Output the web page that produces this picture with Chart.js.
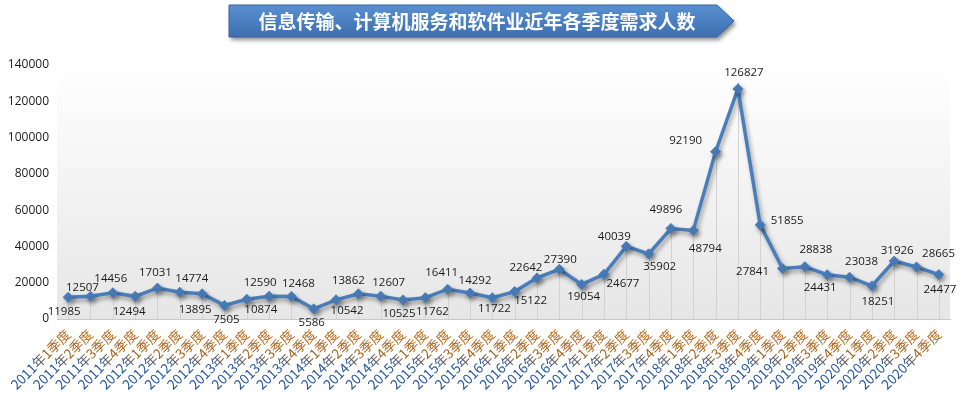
<!DOCTYPE html>
<html>
<head>
<meta charset="utf-8">
<script src="https://cdn.jsdelivr.net/npm/chart.js@4"></script>
<style>
  html, body { margin: 0; padding: 0; background: #fff; }
  #wrap { width: 965px; height: 399px; }
</style>
</head>
<body>
<div id="wrap"><canvas id="chart"></canvas></div>
<script>
const years = ["2011", "2012", "2013", "2014", "2015", "2016", "2017", "2018", "2019", "2020"];
const quarters = ["1", "2", "3", "4"];
const labels = [];
years.forEach(y => quarters.forEach(q => labels.push(y + "年" + q + "季度")));

const demand = [
  11985, 12507, 14456, 12494,
  17031, 14774, 13895, 7505,
  10874, 12590, 12468, 5586,
  10542, 13862, 12607, 10525,
  11762, 16411, 14292, 11722,
  15122, 22642, 27390, 19054,
  24677, 40039, 35902, 49896,
  48794, 92190, 126827, 51855,
  27841, 28838, 24431, 23038,
  18251, 31926, 28665, 24477
];

const yTicks = [0, 20000, 40000, 60000, 80000, 100000, 120000, 140000];
const title = "信息传输、计算机服务和软件业近年各季度需求人数";

// nudge of each value label from its point, [dx, dy] in px
const labelNudge = [
  [-4, 14], [-8, -9], [-2, -14], [-6, 15],
  [-2, -15], [12, -13], [-7, 16], [2, 14],
  [14, 10], [-9, -13], [7, -13], [-2, 14],
  [11, 11], [-10, -13], [8, -13], [-4, 14],
  [7, 14], [-6, -17], [5, -12], [2, 11],
  [16, 9], [-11, -10], [1, -10], [2, 12],
  [19, 9], [-12, -10], [11, 13], [-5, -19],
  [12, 18], [-30, -11], [6, -16], [27, -4],
  [-30, 3], [11, -17], [-7, 13], [12, -15],
  [6, 16], [3, -10], [22, -13], [1, 15]
];

const blue = "#4A7EBB";

const decor = {
  id: "decor",
  beforeDraw(chart) {
    const { ctx, chartArea: a } = chart;
    ctx.save();
    const g = ctx.createLinearGradient(0, a.top, 0, a.bottom);
    g.addColorStop(0, "#ffffff");
    g.addColorStop(1, "#e6e6e6");
    ctx.fillStyle = g;
    ctx.fillRect(a.left, a.top, a.right - a.left, a.bottom - a.top);

    // arrow banner behind the title
    const L = 229, R = 717, T = 5, B = 37, tip = 734;
    ctx.beginPath();
    ctx.moveTo(L, T);
    ctx.lineTo(R, T);
    ctx.lineTo(tip, (T + B) / 2);
    ctx.lineTo(R, B);
    ctx.lineTo(L, B);
    ctx.closePath();
    ctx.shadowColor = "rgba(0,0,0,0.45)";
    ctx.shadowBlur = 4;
    ctx.shadowOffsetX = 2;
    ctx.shadowOffsetY = 3;
    const bg = ctx.createLinearGradient(0, T, 0, B);
    bg.addColorStop(0, "#5a8fd0");
    bg.addColorStop(0.5, "#4a7fc1");
    bg.addColorStop(1, "#3d6fae");
    ctx.fillStyle = bg;
    ctx.fill();
    ctx.shadowColor = "transparent";
    ctx.strokeStyle = "#3a649a";
    ctx.lineWidth = 1;
    ctx.stroke();

    ctx.fillStyle = "#ffffff";
    ctx.font = "bold 19px 'Noto Sans CJK SC'";
    ctx.textAlign = "center";
    ctx.textBaseline = "middle";
    ctx.fillText(title, 477, 22);
    ctx.restore();
  },
  beforeDatasetsDraw(chart) {
    // drop lines
    const { ctx, chartArea: a } = chart;
    const meta = chart.getDatasetMeta(0);
    ctx.save();
    ctx.strokeStyle = "#d2d2d2";
    ctx.lineWidth = 1;
    meta.data.forEach(p => {
      const x = Math.round(p.x) + 0.5;
      ctx.beginPath();
      ctx.moveTo(x, p.y);
      ctx.lineTo(x, a.bottom);
      ctx.stroke();
    });
    ctx.restore();
  },
  beforeDatasetDraw(chart) {
    const ctx = chart.ctx;
    ctx.save();
    ctx.shadowColor = "rgba(0,0,0,0.35)";
    ctx.shadowBlur = 4;
    ctx.shadowOffsetX = 2;
    ctx.shadowOffsetY = 3;
  },
  afterDatasetDraw(chart) {
    chart.ctx.restore();
  },
  afterDatasetsDraw(chart) {
    const { ctx } = chart;
    const meta = chart.getDatasetMeta(0);
    ctx.save();
    ctx.font = "11.5px 'Open Sans'";
    ctx.fillStyle = "#1a1a1a";
    ctx.textAlign = "center";
    ctx.textBaseline = "middle";
    meta.data.forEach((p, i) => {
      const n = labelNudge[i];
      ctx.fillText(String(demand[i]), p.x + n[0], p.y + n[1]);
    });
    ctx.restore();
  }
};

let tickGrad = null;
function tickColor(c) {
  if (!tickGrad) {
    tickGrad = c.chart.ctx.createLinearGradient(-84, 0, 0, 0);
    tickGrad.addColorStop(0, "#1f4f9a");
    tickGrad.addColorStop(0.45, "#2a5a9e");
    tickGrad.addColorStop(0.6, "#a0621e");
    tickGrad.addColorStop(1, "#c07020");
  }
  return tickGrad;
}

new Chart(document.getElementById("chart"), {
  type: "line",
  data: {
    labels: labels,
    datasets: [{
      data: demand,
      borderColor: blue,
      backgroundColor: blue,
      borderWidth: 3.5,
      pointStyle: "rectRot",
      pointRadius: 5,
      pointBorderWidth: 1,
      pointBackgroundColor: blue,
      pointBorderColor: blue,
      tension: 0
    }]
  },
  options: {
    responsive: true,
    maintainAspectRatio: false,
    animation: false,
    layout: { padding: { top: 65, left: 4, right: 15, bottom: 0 } },
    plugins: {
      legend: { display: false },
      tooltip: { enabled: false }
    },
    scales: {
      x: {
        offset: true,
        afterFit: s => { s.height = 80; },
        grid: { display: false, drawTicks: false },
        border: { display: true, color: "#c8c8c8", width: 1 },
        ticks: {
          autoSkip: false,
          minRotation: 45,
          maxRotation: 45,
          padding: 7,
          color: tickColor,
          font: { family: "'Noto Sans CJK SC'", size: 13.5 }
        }
      },
      y: {
        min: 0,
        max: 140000,
        afterBuildTicks: s => { s.ticks = yTicks.map(v => ({ value: v })); },
        afterFit: s => { s.width = 53; },
        grid: { display: false, drawTicks: false },
        border: { display: false },
        ticks: {
          padding: 8,
          color: "#1a1a1a",
          font: { family: "'Open Sans'", size: 12 },
          callback: v => String(v)
        }
      }
    }
  },
  plugins: [decor]
});
</script>
</body>
</html>
